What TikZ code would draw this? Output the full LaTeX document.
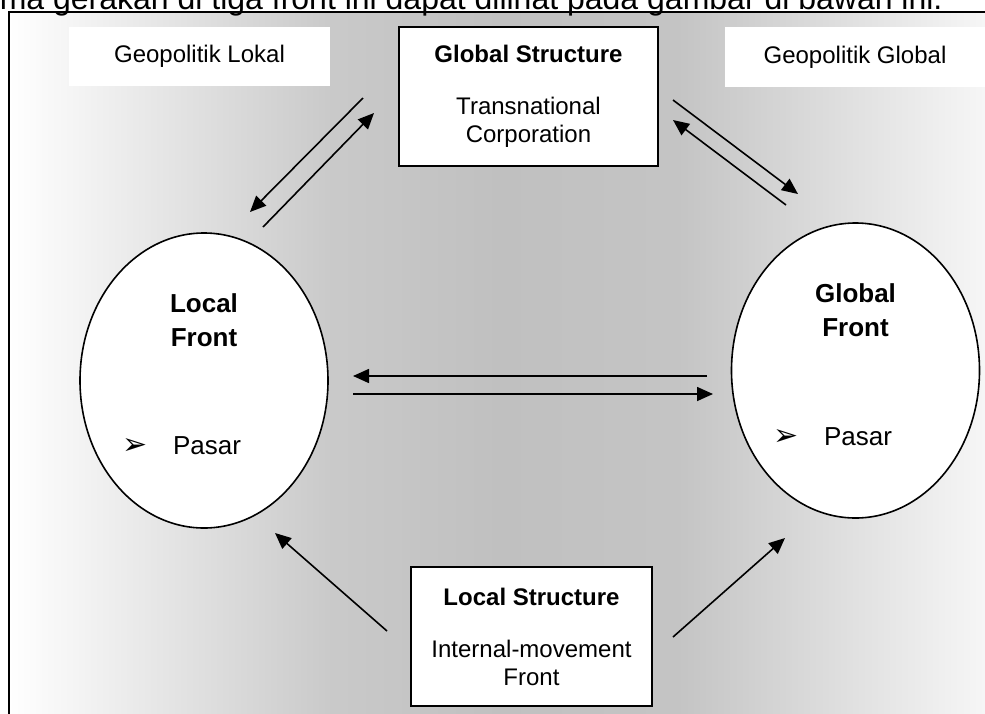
\documentclass[tikz,border=0pt]{standalone}
\usepackage{fontspec}
\setmainfont{Liberation Sans}
\newfontfamily\dingfont{DejaVu Sans}
\usetikzlibrary{arrows.meta,shapes.geometric,calc}
\definecolor{gA}{gray}{1}
\definecolor{gB}{gray}{0.79}
\definecolor{gC}{gray}{0.753}
\definecolor{gD}{gray}{0.77}
\definecolor{gE}{gray}{0.965}
\begin{document}
\begin{tikzpicture}[x=0.5pt,y=-0.5pt,
  conn/.style={line width=0.8pt,-{Triangle[length=8pt,width=7pt]}},
  whitebox/.style={rectangle,fill=white,inner sep=0pt,font=\fontsize{12}{14}\selectfont,align=center},
  structbox/.style={rectangle,fill=white,draw=black,line width=1pt,inner sep=0pt,font=\fontsize{12}{14}\selectfont,align=center},
  front/.style={ellipse,fill=white,draw=black,line width=0.8pt,inner sep=0pt,minimum width=124pt,minimum height=147.5pt},
  fronttitle/.style={font=\fontsize{13}{17}\selectfont\bfseries,align=center,inner sep=0pt},
  pasar/.style={font=\fontsize{13}{15}\selectfont,inner sep=0pt},
  bulletmark/.style={font=\dingfont\fontsize{15}{17}\selectfont,inner sep=0pt},
]
\useasboundingbox (0,0) rectangle (985,713);
\fill[white] (0,0) rectangle (985,713);
% shaded background of the frame
\shade[left color=gA,right color=gB] (9,12) rectangle (330.5,713);
\shade[left color=gB,right color=gC] (330,12) rectangle (500.5,713);
\shade[left color=gC,right color=gD] (500,12) rectangle (680.5,713);
\shade[left color=gD,right color=gE] (680,12) rectangle (985,713);
\draw[line width=1pt] (9,740) -- (9,12) -- (1000,12);

% cut-off sentence above the frame
\node[anchor=base east,inner sep=0pt,font=\fontsize{16}{19}\selectfont] (intro) at (943,9.5) {ma gerakan di tiga front ini dapat dilihat pada gambar di bawah ini.};

% labels and boxes
\node[whitebox,minimum width=130.5pt,minimum height=29.5pt] (gl) at (199.5,56.5) {Geopolitik Lokal};
\node[whitebox,minimum width=130pt,minimum height=30pt] (gg) at (855,57) {Geopolitik Global};
\node[structbox,minimum width=129.5pt,minimum height=69.5pt] (gs) at (528.5,96.5) {\textbf{Global Structure}\\[12pt]Transnational\\Corporation};
\node[structbox,minimum width=120.5pt,minimum height=69.5pt] (ls) at (531.5,636.5) {\textbf{Local Structure}\\[12pt]Internal-movement\\Front};

% fronts
\node[front] (lf) at (204,380.5) {};
\node[front] (gf) at (855.5,370.5) {};
\node[fronttitle] (lft) at ($(lf)+(0,-60.5)$) {Local\\Front};
\node[fronttitle] (gft) at ($(gf)+(0,-60.5)$) {Global\\Front};
\node[pasar] (lp) at ($(lf)+(3,65.5)$) {Pasar};
\node[pasar] (gp) at ($(gf)+(2.5,66.5)$) {Pasar};
\node[bulletmark] (lb) at ($(lf)+(-69,65.5)$) {➢};
\node[bulletmark] (gb) at ($(gf)+(-69,66.5)$) {➢};

% connector end points
\coordinate (tlA) at (363,98);  \coordinate (tlB) at (250,212);
\coordinate (tlC) at (263,227); \coordinate (tlD) at (374,113);
\coordinate (trA) at (673,100); \coordinate (trB) at (798,194);
\coordinate (trC) at (786,205); \coordinate (trD) at (673,120);
\coordinate (hA) at (707,376);  \coordinate (hB) at (353,376);
\coordinate (hC) at (353,394);  \coordinate (hD) at (713,394);
\coordinate (bA) at (387,631);  \coordinate (bB) at (275,533);
\coordinate (bC) at (673,637);  \coordinate (bD) at (785,538);

\draw[conn] (tlA) -- (tlB);
\draw[conn] (tlC) -- (tlD);
\draw[conn] (trA) -- (trB);
\draw[conn] (trC) -- (trD);
\draw[conn] (hA) -- (hB);
\draw[conn] (hC) -- (hD);
\draw[conn] (bA) -- (bB);
\draw[conn] (bC) -- (bD);
\end{tikzpicture}
\end{document}
